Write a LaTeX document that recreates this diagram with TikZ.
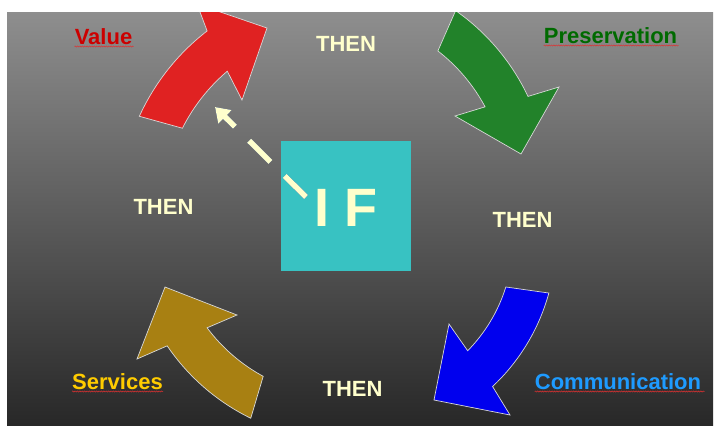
\documentclass[tikz,border=0pt]{standalone}
\usepackage{fontspec}
\setmainfont{Liberation Sans}
\usetikzlibrary{arrows.meta,decorations.pathmorphing}
\definecolor{bgtop}{HTML}{8E8E8E}
\definecolor{bgbot}{HTML}{282828}
\definecolor{redA}{HTML}{E02222}
\definecolor{greenA}{HTML}{22822A}
\definecolor{blueA}{HTML}{0000EE}
\definecolor{goldA}{HTML}{A88012}
\definecolor{tealA}{HTML}{38C2C2}
\definecolor{creamA}{HTML}{FFFFCC}
\definecolor{outlineA}{HTML}{D8D8D8}
\definecolor{valueC}{HTML}{CC0000}
\definecolor{presC}{HTML}{006A00}
\definecolor{servC}{HTML}{FFCC00}
\definecolor{commC}{HTML}{1E9BFF}
\definecolor{squigC}{HTML}{E03030}
\definecolor{shadowC}{HTML}{2040A0}
\begin{document}
\begin{tikzpicture}[x=1pt,y=-1pt,
  blockarrow/.style={draw=outlineA,line width=0.7pt,line join=miter},
  lbl/.style={anchor=base,inner sep=0pt,font=\fontsize{22}{26}\selectfont\bfseries},
  thentext/.style={lbl,text=creamA},
  squig/.style={draw=squigC,line width=0.5pt,decorate,decoration={zigzag,amplitude=0.6pt,segment length=2.4pt}},
  dashline/.style={line width=5.5pt,dash pattern=on 30pt off 20pt,-{Triangle[length=14pt,width=18pt]}}]
\useasboundingbox (0,0) rectangle (715,426);
\fill[white] (0,0) rectangle (715,426);
\shade[top color=bgtop,bottom color=bgbot] (7,12) rectangle (713,425);

\begin{scope}
\clip (7,12) rectangle (713,425);
% red arrow (Value)
\path[blockarrow,fill=redA] ([shift={(155.5:226pt)}]345,210)
  arc[start angle=155.5,end angle=127.6,radius=226pt]
  -- (197,4) -- (267,28) -- (242,100)
  -- ([shift={(130.3:182pt)}]345,210)
  arc[start angle=130.3,end angle=153.3,radius=182pt] -- cycle;
% green arrow (Preservation)
\path[blockarrow,fill=greenA] ([shift={(55:219pt)}]330,190)
  arc[start angle=55,end angle=25.3,radius=219pt]
  -- (559,87) -- (521,154) -- (455,116)
  -- ([shift={(28.2:176pt)}]330,190)
  arc[start angle=28.2,end angle=52.2,radius=176pt] -- cycle;
% blue arrow (Communication)
\path[blockarrow,fill=blueA] ([shift={(-15.3:201pt)}]355,240)
  arc[start angle=-15.3,end angle=-46.8,radius=201pt]
  -- (510,415) -- (434,400) -- (449,324)
  -- ([shift={(-44.5:158pt)}]355,240)
  arc[start angle=-44.5,end angle=-17.3,radius=158pt] -- cycle;
% gold arrow (Services)
\path[blockarrow,fill=goldA] ([shift={(244:215pt)}]345,225)
  arc[start angle=244,end angle=214.2,radius=215pt]
  -- (137,359) -- (165,287) -- (237,315)
  -- ([shift={(216.7:172pt)}]345,225)
  arc[start angle=216.7,end angle=241.6,radius=172pt] -- cycle;
\end{scope}

% IF box
\node[fill=tealA,minimum width=130pt,minimum height=130pt,inner sep=0pt] (ifbox) at (346,206) {};
\node[anchor=base,inner sep=0pt,text=creamA,font=\fontsize{54}{60}\selectfont\bfseries] (iftext) at (346,226) {I F};

% dashed arrow
\coordinate (dstart) at (306,197);
\coordinate (dtip) at (215,107);
\draw[dashline,draw=shadowC,shift={(-1.2,1)}] (dstart) -- (dtip);
\draw[dashline,draw=creamA] (dstart) -- (dtip);

% THEN labels
\node[thentext] (then1) at (346,51) {THEN};
\node[thentext] (then2) at (163.5,214) {THEN};
\node[thentext] (then3) at (522.5,227) {THEN};
\node[thentext] (then4) at (352.5,396) {THEN};

% corner labels
\node[lbl,text=valueC] (value) at (103.5,44) {Value};
\node[lbl,text=presC] (pres) at (610.5,43) {Preservation};
\node[lbl,text=servC] (serv) at (117.5,389) {Services};
\node[lbl,text=commC] (comm) at (618,389) {Communication};

% spell-check squiggles
\draw[squig] (value.base west) ++(0,2.5) -- ++(59,0);
\draw[squig] (pres.base west) ++(0,2.5) -- ++(135,0);
\draw[squig] (serv.base west) ++(0,2.5) -- ++(91,0);
\draw[squig] (comm.base west) ++(0,2.5) -- ++(170,0);
\end{tikzpicture}
\end{document}
